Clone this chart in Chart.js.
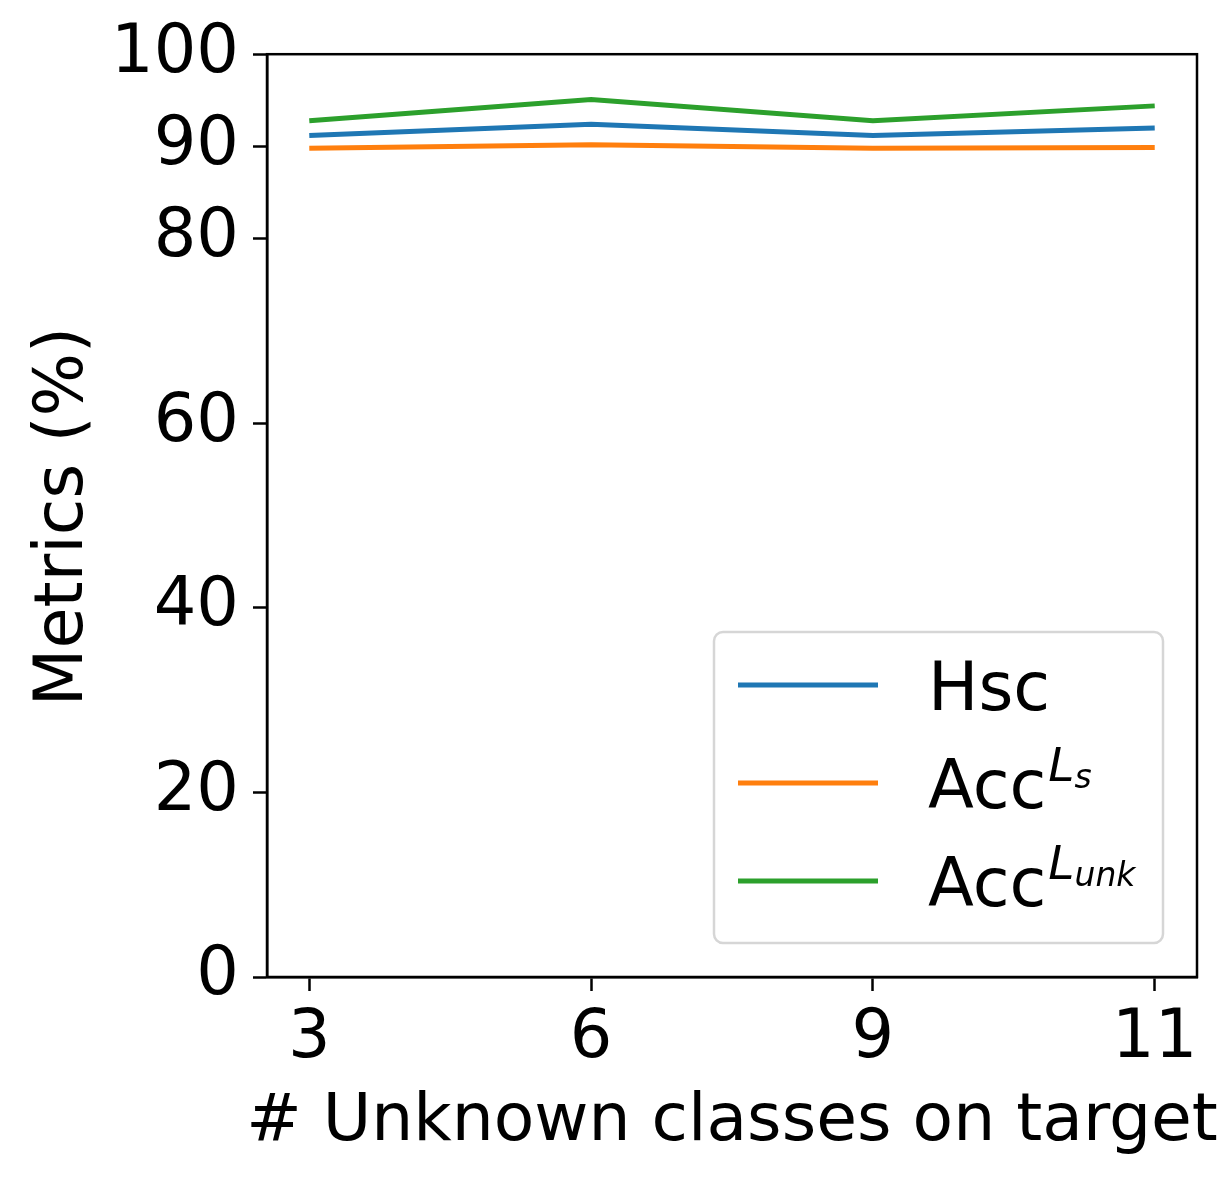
<!DOCTYPE html>
<html>
<head>
<meta charset="utf-8">
<script src="https://cdn.jsdelivr.net/npm/chart.js@4.4.1/dist/chart.umd.min.js"></script>
<style>
  html, body { margin: 0; padding: 0; background: #fff; }
  #wrap { width: 1227px; height: 1182px; }
</style>
</head>
<body>
<div id="wrap"><canvas id="metricsChart" width="1227" height="1182"></canvas></div>
<script>
// values
const unknownClasses = ['3', '6', '9', '11'];
const hscValues = [91.2, 92.4, 91.2, 92.0];
const accLsValues = [89.8, 90.2, 89.8, 89.9];
const accLunkValues = [92.8, 95.1, 92.8, 94.4];
const yTickValues = [0, 20, 40, 60, 80, 90, 100];
const xTitle = '# Unknown classes on target';
const yTitle = 'Metrics (%)';

const FONT = "'DejaVu Sans', sans-serif";

const toPoints = (values) => values.map((v, i) => ({ x: i, y: v }));

const seriesDefs = [
    { data: hscValues, color: '#1f77b4', base: 'Hsc', sup: '', sub: '' },
    { data: accLsValues, color: '#ff7f0e', base: 'Acc', sup: 'L', sub: 's' },
    { data: accLunkValues, color: '#2ca02c', base: 'Acc', sup: 'L', sub: 'unk' }
];

// frame around the plot, like matplotlib spines
const framePlugin = {
    id: 'frame',
    afterDraw(chart) {
        const { ctx, chartArea: a } = chart;
        ctx.save();
        ctx.strokeStyle = '#000';
        ctx.lineWidth = 2.5;
        ctx.strokeRect(a.left, a.top, a.right - a.left, a.bottom - a.top);
        ctx.restore();
    }
};

// pick a font size so the ink of the text spans the wanted length
const fitSize = (ctx, text, inkLen) => {
    ctx.font = '100px ' + FONT;
    const m = ctx.measureText(text);
    const w = m.actualBoundingBoxLeft + m.actualBoundingBoxRight;
    return 100 * inkLen / w;
};

// axis titles
const axisTitles = {
    id: 'axisTitles',
    afterDraw(chart) {
        const ctx = chart.ctx;
        const a = chart.chartArea;
        ctx.save();
        ctx.fillStyle = '#000';
        ctx.textBaseline = 'alphabetic';
        ctx.textAlign = 'center';

        const xs = fitSize(ctx, xTitle, 966);
        ctx.font = xs.toFixed(1) + 'px ' + FONT;
        ctx.fillText(xTitle, (a.left + a.right) / 2, a.bottom + 163);

        const ys = fitSize(ctx, yTitle, 368);
        ctx.font = ys.toFixed(1) + 'px ' + FONT;
        ctx.translate(82, (a.top + a.bottom) / 2 + 1);
        ctx.rotate(-Math.PI / 2);
        ctx.fillText(yTitle, 0, 0);
        ctx.restore();
    }
};

// legend with math-style superscripts
const mathLegend = {
    id: 'mathLegend',
    afterDraw(chart) {
        const ctx = chart.ctx;
        const a = chart.chartArea;
        const boxW = 449, boxH = 311;
        const x0 = a.right - 34 - boxW;
        const y0 = a.bottom - 34 - boxH;
        ctx.save();
        ctx.beginPath();
        ctx.roundRect(x0, y0, boxW, boxH, 9);
        ctx.fillStyle = 'rgba(255,255,255,0.8)';
        ctx.fill();
        ctx.strokeStyle = '#d6d6d6';
        ctx.lineWidth = 2.5;
        ctx.stroke();

        seriesDefs.forEach((s, i) => {
            const rowY = y0 + 53 + i * 98;
            ctx.strokeStyle = s.color;
            ctx.lineWidth = 5;
            ctx.beginPath();
            ctx.moveTo(x0 + 24, rowY);
            ctx.lineTo(x0 + 164, rowY);
            ctx.stroke();

            const baseY = rowY + 25;
            let tx = x0 + 214;
            ctx.fillStyle = '#000';
            ctx.textBaseline = 'alphabetic';
            ctx.textAlign = 'left';
            ctx.font = '67px ' + FONT;
            ctx.fillText(s.base, tx, baseY);
            tx += ctx.measureText(s.base).width;
            if (s.sup) {
                ctx.font = 'italic 47px ' + FONT;
                ctx.fillText(s.sup, tx + 2, baseY - 27);
                tx += ctx.measureText(s.sup).width + 2;
                ctx.font = 'italic 33px ' + FONT;
                ctx.fillText(s.sub, tx, baseY - 20);
            }
        });
        ctx.restore();
    }
};

const ctx = document.getElementById('metricsChart').getContext('2d');
new Chart(ctx, {
    type: 'line',
    data: {
        datasets: seriesDefs.map(s => ({
            label: s.base + s.sup + s.sub,
            data: toPoints(s.data),
            borderColor: s.color,
            backgroundColor: s.color,
            borderWidth: 5,
            pointRadius: 0,
            tension: 0,
            fill: false
        }))
    },
    options: {
        responsive: false,
        animation: false,
        layout: { padding: { top: 54, right: 30, left: 0, bottom: 0 } },
        plugins: {
            legend: { display: false },
            tooltip: { enabled: false }
        },
        scales: {
            x: {
                type: 'linear',
                min: -0.15,
                max: 3.15,
                afterBuildTicks: (axis) => {
                    axis.ticks = unknownClasses.map((_, i) => ({ value: i }));
                },
                afterFit: (axis) => { axis.height = 205; },
                ticks: {
                    callback: (v) => unknownClasses[v],
                    color: '#000',
                    font: { family: FONT, size: 67 },
                    padding: 8,
                    maxRotation: 0,
                    autoSkip: false
                },
                grid: {
                    display: true,
                    drawOnChartArea: false,
                    drawTicks: true,
                    tickLength: 14,
                    tickWidth: 2.5,
                    tickColor: '#000'
                },
                border: { display: true, color: '#000', width: 2.5 }
            },
            y: {
                min: 0,
                max: 100,
                afterBuildTicks: (axis) => {
                    axis.ticks = yTickValues.map(v => ({ value: v }));
                },
                afterFit: (axis) => { axis.width = 267; },
                ticks: {
                    color: '#000',
                    font: { family: FONT, size: 67 },
                    padding: 14
                },
                grid: {
                    display: true,
                    drawOnChartArea: false,
                    drawTicks: true,
                    tickLength: 14,
                    tickWidth: 2.5,
                    tickColor: '#000'
                },
                border: { display: true, color: '#000', width: 2.5 }
            }
        }
    },
    plugins: [framePlugin, axisTitles, mathLegend]
});
</script>
</body>
</html>
